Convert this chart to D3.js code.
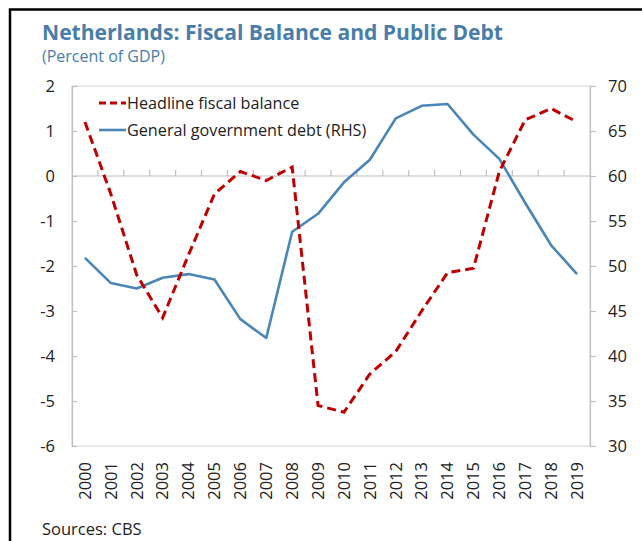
<!DOCTYPE html>
<html>
<head>
<meta charset="utf-8">
<script src="https://cdn.jsdelivr.net/npm/d3@7"></script>
<style>
  html, body { margin: 0; padding: 0; background: #fff; }
  svg { display: block; }
  text { font-family: "Open Sans", "Noto Sans", sans-serif; }
</style>
</head>
<body>
<svg id="chart" width="642" height="541"></svg>
<script>
const years = ["2000","2001","2002","2003","2004","2005","2006","2007","2008","2009",
               "2010","2011","2012","2013","2014","2015","2016","2017","2018","2019"];
const fiscalBalance = [1.2, -0.4, -2.2, -3.15, -1.75, -0.4, 0.1, -0.1, 0.2, -5.1,
                       -5.25, -4.4, -3.9, -3.0, -2.15, -2.05, 0.1, 1.25, 1.5, 1.2];
const govDebt = [50.9, 48.1, 47.5, 48.7, 49.1, 48.5, 44.1, 42.0, 53.8, 55.8,
                 59.3, 61.8, 66.4, 67.8, 68.0, 64.6, 61.9, 57.0, 52.3, 49.1];
const leftTicks = [2, 1, 0, -1, -2, -3, -4, -5, -6];
const rightTicks = [70, 65, 60, 55, 50, 45, 40, 35, 30];
const seriesNames = ["Headline fiscal balance", "General government debt (RHS)"];
const titleText = "Netherlands: Fiscal Balance and Public Debt";
const subtitleText = "(Percent of GDP)";
const sourceText = "Sources: CBS";

const svg = d3.select("#chart");
const L = 72, R = 590, T = 86, B = 446;
const red = "#c00000", blue = "#4a86b8", titleBlue = "#4a7eaa";

// outer frame (left and top black border)
svg.append("path").attr("d", `M10,541 V9.5 H642`)
  .attr("fill", "none").attr("stroke", "#000").attr("stroke-width", 2.5);

svg.append("text").attr("x", 42).attr("y", 40)
  .attr("font-size", 22).attr("font-weight", 700).attr("fill", titleBlue)
  .attr("textLength", 461).attr("lengthAdjust", "spacingAndGlyphs")
  .text(titleText);
svg.append("text").attr("x", 42).attr("y", 62)
  .attr("font-size", 16).attr("fill", titleBlue)
  .text(subtitleText);
svg.append("text").attr("x", 42).attr("y", 535)
  .attr("font-size", 16.5).attr("fill", "#222")
  .text(sourceText);

const x = d3.scaleBand().domain(years).range([L, R]);
const yL = d3.scaleLinear().domain([-6, 2]).range([B, T]);
const yR = d3.scaleLinear().domain([30, 70]).range([B, T]);

// plot frame
svg.append("rect").attr("x", L).attr("y", T).attr("width", R - L).attr("height", B - T)
  .attr("fill", "none").attr("stroke", "#d9d9d9").attr("stroke-width", 1.2);

// zero line
svg.append("line").attr("x1", L).attr("x2", R).attr("y1", yL(0)).attr("y2", yL(0))
  .attr("stroke", "#bfbfbf").attr("stroke-width", 1.2);
// category ticks on zero line
svg.append("g").selectAll("line").data(years.slice(1)).join("line")
  .attr("x1", d => x(d)).attr("x2", d => x(d))
  .attr("y1", yL(0)).attr("y2", yL(0) - 6)
  .attr("stroke", "#bfbfbf").attr("stroke-width", 1.2);

// left axis
const gl = svg.append("g").attr("transform", `translate(${L},0)`)
  .call(d3.axisLeft(yL).tickValues(leftTicks).tickSize(-5).tickPadding(17)
    .tickFormat(d => String(d)));
gl.select(".domain").attr("stroke", "#bfbfbf").attr("stroke-width", 1.2);
gl.selectAll(".tick line").attr("stroke", "#bfbfbf").attr("stroke-width", 1.2);
gl.selectAll("text").attr("font-size", 16.5).attr("fill", "#222")
  .attr("font-family", "'Open Sans', sans-serif");

// right axis
const gr = svg.append("g").attr("transform", `translate(${R},0)`)
  .call(d3.axisRight(yR).tickValues(rightTicks).tickSize(6).tickPadding(12)
    .tickFormat(d => String(d)));
gr.select(".domain").attr("stroke", "#bfbfbf").attr("stroke-width", 1.2);
gr.selectAll(".tick line").attr("stroke", "#bfbfbf").attr("stroke-width", 1.2);
gr.selectAll("text").attr("font-size", 16.5).attr("fill", "#222")
  .attr("font-family", "'Open Sans', sans-serif");

// bottom axis labels
const gb = svg.append("g").attr("transform", `translate(0,${B})`)
  .call(d3.axisBottom(x).tickSize(0));
gb.select(".domain").remove();
gb.selectAll("text")
  .attr("transform", "rotate(-90)")
  .attr("x", -16).attr("y", 0).attr("dy", "0.35em")
  .attr("text-anchor", "end")
  .attr("font-size", 16.5).attr("fill", "#222")
  .attr("font-family", "'Open Sans', sans-serif");

// lines
const cx = d => x(d) + x.bandwidth() / 2;
const lineFB = d3.line().x((d, i) => cx(years[i])).y(d => yL(d));
const lineDebt = d3.line().x((d, i) => cx(years[i])).y(d => yR(d));

svg.append("path").datum(govDebt).attr("d", lineDebt)
  .attr("fill", "none").attr("stroke", blue).attr("stroke-width", 2.6)
  .attr("stroke-linejoin", "round");
svg.append("path").datum(fiscalBalance).attr("d", lineFB)
  .attr("fill", "none").attr("stroke", red).attr("stroke-width", 3)
  .attr("stroke-dasharray", "9,5");

// legend
const legend = svg.append("g");
const legItems = [
  {name: seriesNames[0], color: red, dash: "7,4", width: 3, y: 103},
  {name: seriesNames[1], color: blue, dash: null, width: 2.6, y: 130}
];
legItems.forEach(it => {
  legend.append("line").attr("x1", 99).attr("x2", 126).attr("y1", it.y).attr("y2", it.y)
    .attr("stroke", it.color).attr("stroke-width", it.width)
    .attr("stroke-dasharray", it.dash);
  legend.append("text").attr("x", 127).attr("y", it.y).attr("dy", "0.35em")
    .attr("font-size", 16.2).attr("fill", "#222").text(it.name);
});
</script>
</body>
</html>
